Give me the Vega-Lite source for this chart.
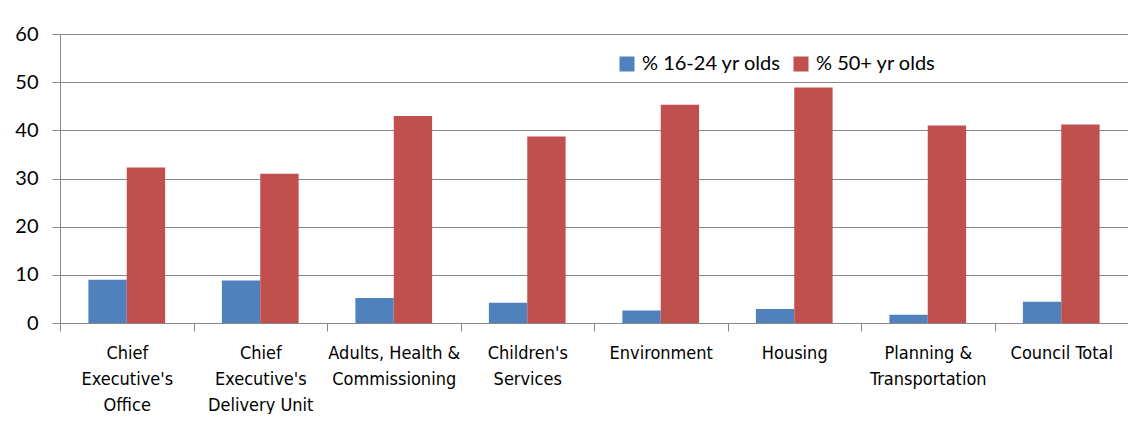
{
  "$schema": "https://vega.github.io/schema/vega-lite/v6.json",
  "width": 1068,
  "height": 289,
  "padding": {"left": 10, "top": 24, "right": 0, "bottom": 0},
  "background": "white",
  "view": {"stroke": null},
  "data": {
    "values": [
      {"dept": "Chief|Executive's|Office", "series": "% 16-24 yr olds", "pct": 9.0},
      {"dept": "Chief|Executive's|Office", "series": "% 50+ yr olds", "pct": 32.3},
      {"dept": "Chief|Executive's|Delivery Unit", "series": "% 16-24 yr olds", "pct": 8.8},
      {"dept": "Chief|Executive's|Delivery Unit", "series": "% 50+ yr olds", "pct": 31.0},
      {"dept": "Adults, Health &|Commissioning", "series": "% 16-24 yr olds", "pct": 5.2},
      {"dept": "Adults, Health &|Commissioning", "series": "% 50+ yr olds", "pct": 43.0},
      {"dept": "Children's|Services", "series": "% 16-24 yr olds", "pct": 4.2},
      {"dept": "Children's|Services", "series": "% 50+ yr olds", "pct": 38.7},
      {"dept": "Environment", "series": "% 16-24 yr olds", "pct": 2.6},
      {"dept": "Environment", "series": "% 50+ yr olds", "pct": 45.3},
      {"dept": "Housing", "series": "% 16-24 yr olds", "pct": 2.9},
      {"dept": "Housing", "series": "% 50+ yr olds", "pct": 48.9},
      {"dept": "Planning &|Transportation", "series": "% 16-24 yr olds", "pct": 1.7},
      {"dept": "Planning &|Transportation", "series": "% 50+ yr olds", "pct": 41.0},
      {"dept": "Council Total", "series": "% 16-24 yr olds", "pct": 4.4},
      {"dept": "Council Total", "series": "% 50+ yr olds", "pct": 41.2}
    ]
  },
  "mark": {"type": "bar"},
  "encoding": {
    "x": {
      "field": "dept",
      "type": "nominal",
      "sort": null,
      "scale": {"paddingInner": 0, "paddingOuter": 0},
      "axis": {
        "title": null,
        "labelAngle": 0,
        "labelExpr": "datum.value ? split(datum.value, '|') : ''",
        "labelFont": "DejaVu Sans Condensed",
        "labelFontSize": 18,
        "labelLineHeight": 26,
        "labelColor": "#000000",
        "labelPadding": 13,
        "tickBand": "extent",
        "tickSize": 8,
        "tickColor": "#878787",
        "domainColor": "#878787",
        "labelLimit": 200
      }
    },
    "xOffset": {
      "field": "series",
      "type": "nominal",
      "scale": {"paddingInner": 0, "paddingOuter": 0.74}
    },
    "y": {
      "field": "pct",
      "type": "quantitative",
      "scale": {"domain": [0, 60], "nice": false},
      "axis": {
        "title": null,
        "values": [0, 10, 20, 30, 40, 50, 60],
        "labelFont": "Lato",
        "labelFontSize": 20,
        "labelColor": "#000000",
        "labelPadding": 14,
        "tickSize": 8,
        "tickColor": "#878787",
        "domainColor": "#878787",
        "gridColor": "#878787",
        "grid": true,
        "minExtent": 50,
        "maxExtent": 50
      }
    },
    "color": {
      "field": "series",
      "type": "nominal",
      "scale": {"domain": ["% 16-24 yr olds", "% 50+ yr olds"], "range": ["#4F81BD", "#C0504D"]},
      "legend": {
        "title": null,
        "orient": "none",
        "direction": "horizontal",
        "legendX": 557,
        "legendY": 20,
        "symbolType": "square",
        "symbolSize": 225,
        "symbolStrokeWidth": 0,
        "symbolOpacity": 1,
        "labelFont": "Lato",
        "labelFontSize": 20,
        "labelColor": "#000000",
        "labelOffset": 5,
        "columnPadding": 10
      }
    }
  }
}
